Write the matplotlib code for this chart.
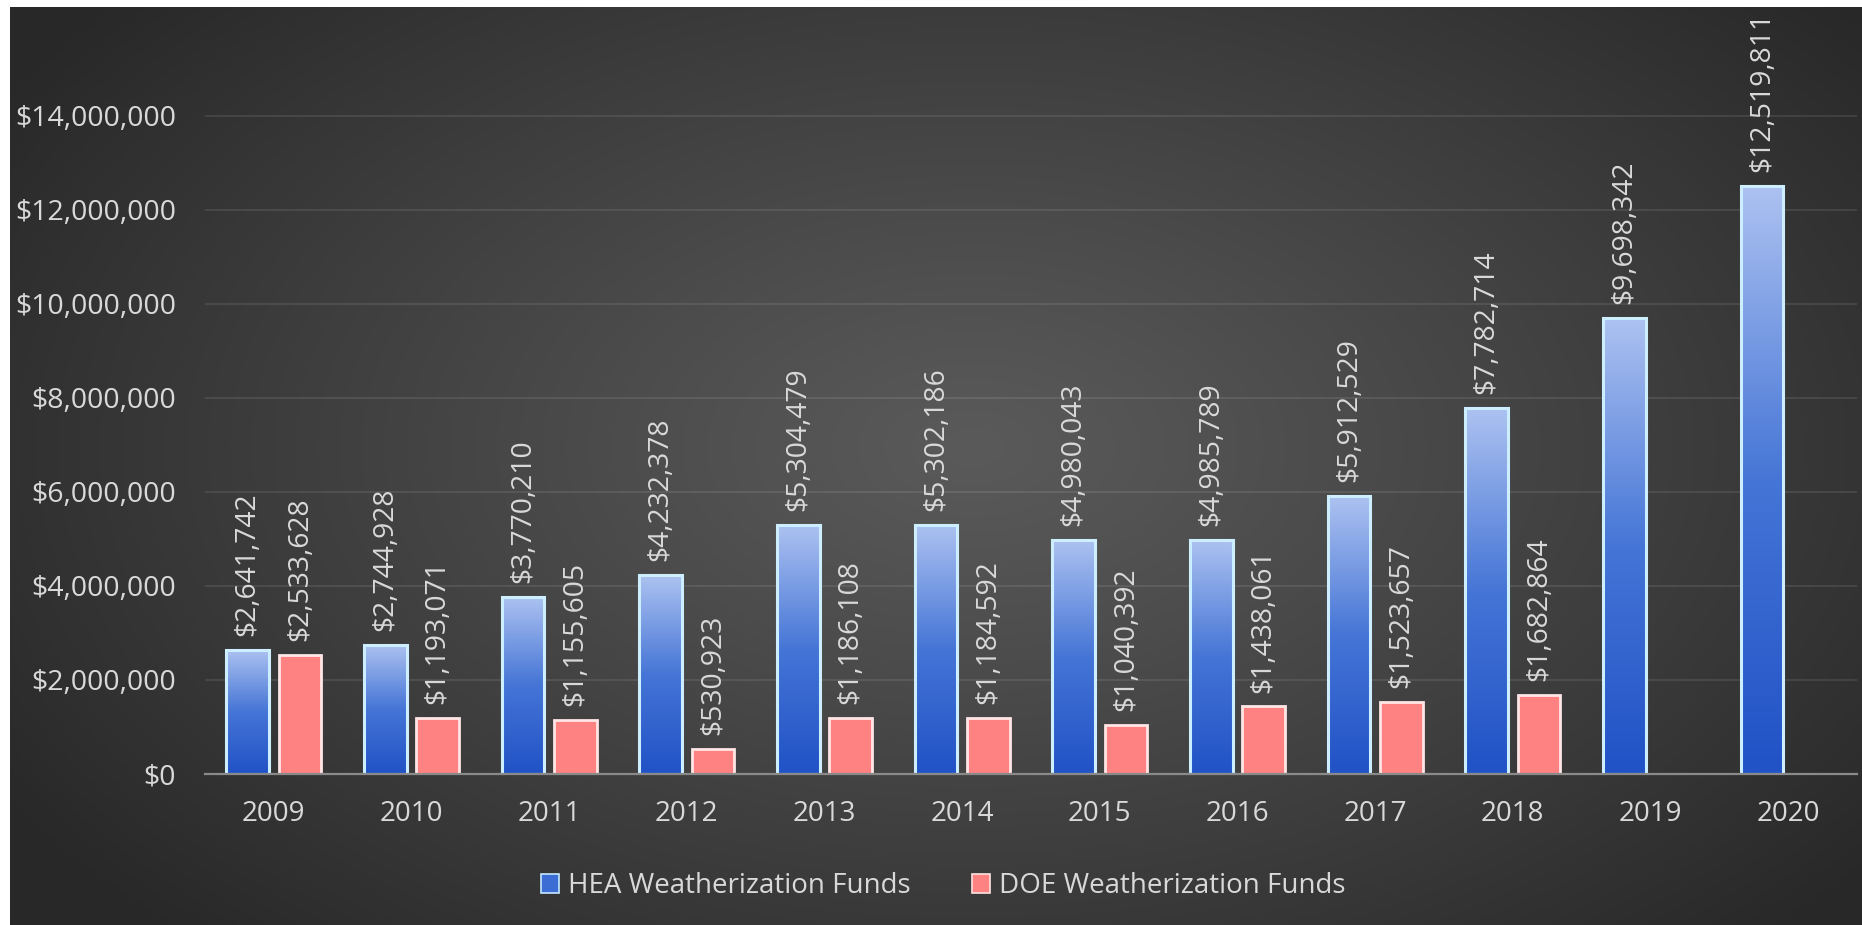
import numpy as np
import matplotlib
matplotlib.use("Agg")
import matplotlib.pyplot as plt
from matplotlib.colors import LinearSegmentedColormap
from matplotlib.patches import Patch
from matplotlib.ticker import FuncFormatter

# ---------------- data ----------------
years = ["2009", "2010", "2011", "2012", "2013", "2014", "2015", "2016",
         "2017", "2018", "2019", "2020"]
hea_funds = [2641742, 2744928, 3770210, 4232378, 5304479, 5302186, 4980043,
             4985789, 5912529, 7782714, 9698342, 12519811]
doe_funds = [2533628, 1193071, 1155605, 530923, 1186108, 1184592, 1040392,
             1438061, 1523657, 1682864, None, None]
series_names = ["HEA Weatherization Funds", "DOE Weatherization Funds"]

# ---------------- style ----------------
plt.rcParams['font.family'] = ['Open Sans', 'DejaVu Sans']
TXT = '#d9d9d9'
W, H = 1862, 925
fig = plt.figure(figsize=(W / 100, H / 100), dpi=100, facecolor='white')

# background with radial gradient
bg = fig.add_axes([10 / W, 0, 1 - 10 / W, 1 - 7 / H])
bg.set_axis_off()
yy, xx = np.mgrid[0:1:400j, 0:1:800j]
r = np.sqrt(((xx - 0.52) / 0.62) ** 2 + ((yy - 0.48) / 0.75) ** 2)
r = np.clip(r, 0, 1) ** 1.1
c_center, c_edge = 0x5a / 255, 0x28 / 255
val = c_center - (c_center - c_edge) * r
bg.imshow(np.dstack([val, val, val]), extent=[0, 1, 0, 1], aspect='auto',
          origin='upper', interpolation='bilinear')
bg.set_xlim(0, 1)
bg.set_ylim(0, 1)

# main axes
left, right, base, top = 205, 1857, 774, 30
ax = fig.add_axes([left / W, (H - base) / H, (right - left) / W, (base - top) / H])
ax.set_facecolor('none')
px_per_2m = 94.0
ymax = (base - top) / px_per_2m * 2e6

x = np.arange(len(years))
bw = 0.31
off = 0.19

hea_cmap = LinearSegmentedColormap.from_list('hea', ['#2152c6', '#4575d6', '#adc2f1'])
grad = np.linspace(0, 1, 256).reshape(-1, 1)

# HEA bars
hea_bars = ax.bar(x - off, hea_funds, width=bw, facecolor='none',
                  edgecolor='#cdeeff', linewidth=2.2, zorder=4)
for rect in hea_bars:
    x0, y0 = rect.get_xy()
    ax.imshow(grad, extent=[x0, x0 + rect.get_width(), y0, y0 + rect.get_height()],
              origin='lower', cmap=hea_cmap, aspect='auto', zorder=3,
              interpolation='bilinear')

# DOE bars
doe_idx = [i for i, v in enumerate(doe_funds) if v is not None]
doe_vals = [doe_funds[i] for i in doe_idx]
doe_bars = ax.bar(x[doe_idx] + off, doe_vals, width=bw, facecolor='#ff8282',
                  edgecolor='#ffe6e6', linewidth=2.0, zorder=4)

# value labels
for rect, v in zip(list(hea_bars) + list(doe_bars), hea_funds + doe_vals):
    ax.annotate(f"${v:,.0f}", (rect.get_x() + rect.get_width() / 2, v),
                xytext=(0, 10), textcoords='offset points', rotation=90,
                ha='center', va='bottom', color=TXT, fontsize=20.3, zorder=6,
                annotation_clip=False)

ax.set_xlim(-0.5, len(years) - 0.5)
ax.set_ylim(0, ymax)
ax.set_xticks(x)
ax.set_xticklabels(years)
ax.set_yticks(np.arange(0, 14e6 + 1, 2e6))
ax.yaxis.set_major_formatter(FuncFormatter(lambda v, p: f"${v:,.0f}"))
ax.tick_params(axis='y', length=0, pad=21, labelsize=20.5, labelcolor=TXT)
ax.tick_params(axis='x', length=0, pad=19, labelsize=20, labelcolor=TXT)
ax.grid(axis='y', color='white', alpha=0.11, linewidth=1.2, zorder=0)
ax.set_axisbelow(True)
for s in ['left', 'right', 'top']:
    ax.spines[s].set_visible(False)
ax.spines['bottom'].set_color('#8a8a8a')
ax.spines['bottom'].set_linewidth(1.6)
ax.spines['bottom'].set_zorder(5)

# legend
handles = [Patch(facecolor='#3c6dd4', edgecolor='#c4e8ff', linewidth=1.2),
           Patch(facecolor='#ff8282', edgecolor='#ffe2e2', linewidth=1.2)]
leg = fig.legend(handles, series_names, loc='center', bbox_to_anchor=(0.5064, (H - 886) / H),
                 ncol=2, frameon=False, fontsize=20, labelcolor=TXT,
                 handlelength=0.68, handleheight=0.65, handletextpad=0.3,
                 columnspacing=2.2)

fig.savefig('out.png', dpi=100, facecolor='white')
